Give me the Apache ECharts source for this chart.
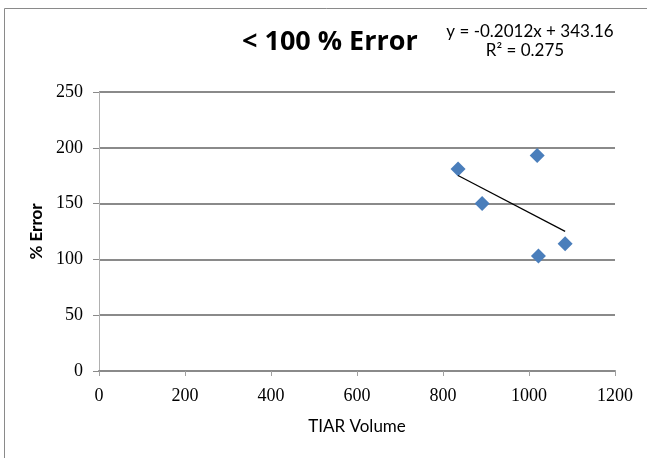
<!DOCTYPE html>
<html>
<head>
<meta charset="utf-8">
<script src="https://cdn.jsdelivr.net/npm/echarts@6/dist/echarts.min.js"></script>
<style>html,body{margin:0;padding:0;background:#fff}#c{width:647px;height:458px}</style>
</head>
<body>
<div id="c"></div>
<script>
const titleText = '< 100 % Error';
const equationText = 'y = -0.2012x + 343.16';
const r2Text = 'R\u00B2 = 0.275';
const xName = 'TIAR Volume';
const yName = '% Error';
const pointsX = [835, 891, 1019, 1022, 1084];
const pointsY = [181, 150, 193, 103, 114];
const trendX = [835, 1084];
const trendY = [175.2, 125.1];

const chart = echarts.init(document.getElementById('c'), null, {renderer: 'canvas'});
chart.setOption({
  animation: false,
  backgroundColor: '#fff',
  title: {
    text: titleText,
    left: 237, top: 24,
    textStyle: {fontFamily: 'Open Sans', fontWeight: 'bold', fontSize: 27, color: '#000'}
  },
  graphic: [
    {type: 'rect', shape: {x: 4.5, y: 8.5, width: 700, height: 500}, style: {fill: 'none', stroke: '#8a8a8a', lineWidth: 1}, silent: true},
    {type: 'text', x: 530, y: 32, style: {text: equationText, fontFamily: 'Lato', fontSize: 17, fill: '#000', textAlign: 'center', textVerticalAlign: 'middle'}},
    {type: 'text', x: 525, y: 51, style: {text: r2Text, fontFamily: 'Lato', fontSize: 17, fill: '#000', textAlign: 'center', textVerticalAlign: 'middle'}}
  ],
  grid: {left: 99, right: 32, top: 92, bottom: 87, containLabel: false},
  xAxis: {
    type: 'value', min: 0, max: 1200, interval: 200,
    name: xName, nameLocation: 'middle', nameGap: 47,
    nameTextStyle: {fontFamily: 'Lato', fontSize: 17, color: '#000'},
    axisLine: {show: true, onZero: false, lineStyle: {color: '#8a8a8a', width: 2}},
    axisTick: {show: true, inside: false, length: 5, lineStyle: {color: '#a0a0a0', width: 1}},
    axisLabel: {margin: 16, fontFamily: 'Liberation Serif', fontSize: 18, color: '#000', formatter: v => String(v)},
    splitLine: {show: false}
  },
  yAxis: {
    type: 'value', min: 0, max: 250, interval: 50,
    name: yName, nameLocation: 'middle', nameGap: 53, nameRotate: 90,
    nameTextStyle: {fontFamily: 'Lato', fontWeight: 'bold', fontSize: 17, color: '#000'},
    axisLine: {show: true, lineStyle: {color: '#b0b0b0', width: 1}},
    axisTick: {show: true, length: 6, lineStyle: {color: '#8a8a8a', width: 1}},
    axisLabel: {margin: 16, fontFamily: 'Liberation Serif', fontSize: 18, color: '#000', formatter: v => String(v)},
    splitLine: {show: true, lineStyle: {color: '#8a8a8a', width: 2}}
  },
  series: [
    {
      type: 'scatter', symbol: 'diamond', symbolSize: 15,
      itemStyle: {color: '#4a7ebb', opacity: 1},
      data: pointsX.map((x, i) => [x, pointsY[i]]),
      z: 3
    },
    {
      type: 'line', symbol: 'none',
      lineStyle: {color: '#000', width: 1.2},
      data: trendX.map((x, i) => [x, trendY[i]]),
      z: 4
    }
  ]
});
</script>
</body>
</html>
